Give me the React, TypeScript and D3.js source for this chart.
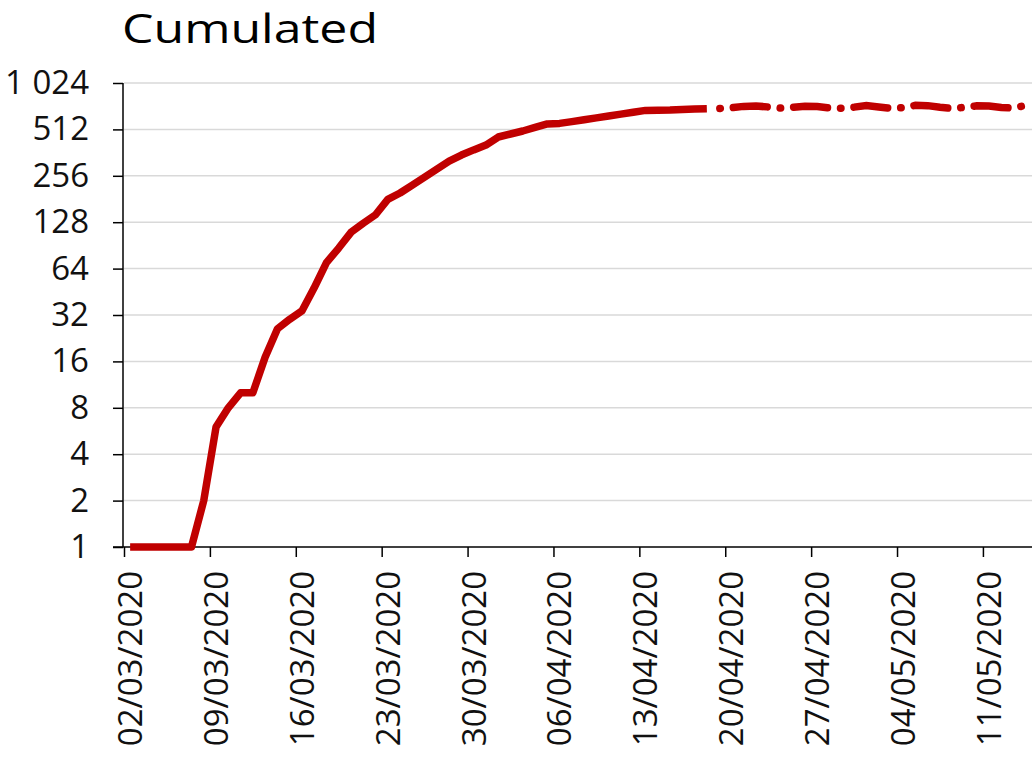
import React, { useEffect, useRef } from 'react';
import * as d3 from 'd3';

// daily cumulated counts starting 02/03/2020
const startDate = new Date(2020, 2, 2);
const actualValues = [
  1, 1, 1, 1, 1, 1, 2, 6, 8, 10, 10, 17, 26, 30, 34, 48, 70, 87, 110, 126,
  143, 180, 198, 223, 251, 283, 319, 349, 377, 405, 457, 478, 500, 527, 556, 560,
  575, 592, 608, 625, 643, 662, 680, 682, 684, 690, 694, 697,
];
// projection continues from the last actual day (18/04/2020)
const projectionStart = 47;
const projectionValues = [
  697, 700, 708, 722, 726, 716, 704, 712, 724, 720, 704, 703, 714, 732, 716, 702,
  708, 734, 730, 712, 700, 712, 728, 727, 710, 705, 732,
];
const yTicks = [1, 2, 4, 8, 16, 32, 64, 128, 256, 512, 1024];
const xTickLabels = [
  '02/03/2020', '09/03/2020', '16/03/2020', '23/03/2020', '30/03/2020', '06/04/2020',
  '13/04/2020', '20/04/2020', '27/04/2020', '04/05/2020', '11/05/2020',
];
const title = 'Cumulated';

const dayMs = 24 * 3600 * 1000;
const parseDay = d3.timeParse('%d/%m/%Y');

export default function App() {
  const ref = useRef<SVGSVGElement>(null);

  useEffect(() => {
    const svg = d3.select(ref.current);
    svg.selectAll('*').remove();

    const left = 124;
    const right = 1032;
    const top = 83;
    const bottom = 547;
    const font = '"Open Sans", sans-serif';

    const x = d3
      .scaleTime()
      .domain([startDate, d3.timeDay.offset(startDate, 74)])
      .range([left, right]);
    const y = d3.scaleLog().base(2).domain([1, 1024]).range([bottom, top]);

    // points sit in the middle of each day
    const dayX = (i: number) => x(new Date(startDate.getTime() + (i + 0.5) * dayMs));

    svg
      .append('text')
      .attr('x', 122)
      .attr('y', 43)
      .attr('font-family', font)
      .attr('font-size', 40)
      .attr('textLength', 256)
      .attr('lengthAdjust', 'spacingAndGlyphs')
      .attr('fill', '#000')
      .text(title);

    // gridlines
    svg
      .append('g')
      .selectAll('line')
      .data(yTicks.slice(1))
      .enter()
      .append('line')
      .attr('x1', left)
      .attr('x2', right)
      .attr('y1', d => y(d))
      .attr('y2', d => y(d))
      .attr('stroke', '#d9d9d9')
      .attr('stroke-width', 1.5);

    const yAxis = d3
      .axisLeft(y)
      .tickValues(yTicks)
      .tickSize(10)
      .tickPadding(24)
      .tickFormat(d => d3.format(',')(d as number).replace(',', ' '));
    const gy = svg
      .append('g')
      .attr('transform', `translate(${left - 1},0)`)
      .call(yAxis);
    gy.select('.domain').attr('stroke', '#000').attr('stroke-width', 1.5).attr('d', `M0,${top}V${bottom}`);
    gy.selectAll('.tick line').attr('stroke', '#000').attr('stroke-width', 1.5);
    gy.selectAll('.tick text')
      .attr('font-family', font)
      .attr('font-size', 33)
      .attr('fill', '#111');

    const xAxis = d3
      .axisBottom(x)
      .tickValues(xTickLabels.map(s => parseDay(s) as Date))
      .tickSize(10)
      .tickFormat(d => d3.timeFormat('%d/%m/%Y')(d as Date));
    const gx = svg
      .append('g')
      .attr('transform', `translate(0,${bottom})`)
      .call(xAxis);
    gx.select('.domain').attr('stroke', '#000').attr('stroke-width', 1.5).attr('d', `M${left - 11},0H${right}`);
    gx.selectAll('.tick line').attr('stroke', '#000').attr('stroke-width', 1.5);
    gx.selectAll('.tick text')
      .attr('font-family', font)
      .attr('font-size', 33)
      .attr('fill', '#111')
      .attr('text-anchor', 'end')
      .attr('transform', 'rotate(-90)')
      .attr('x', -24)
      .attr('y', 0)
      .attr('dy', '0.53em');

    const actualLine = d3
      .line<number>()
      .x((d, i) => dayX(i))
      .y(d => y(d));
    const projLine = d3
      .line<number>()
      .x((d, i) => dayX(i + projectionStart))
      .y(d => y(d));

    svg
      .append('path')
      .datum(projectionValues)
      .attr('d', projLine)
      .attr('fill', 'none')
      .attr('stroke', '#c00000')
      .attr('stroke-width', 7.5)
      .attr('stroke-linecap', 'round')
      .attr('stroke-dasharray', '34 13 0.5 13')
      .attr('stroke-dashoffset', 34);

    svg
      .append('path')
      .datum(actualValues)
      .attr('d', actualLine)
      .attr('fill', 'none')
      .attr('stroke', '#c00000')
      .attr('stroke-width', 7.5)
      .attr('stroke-linejoin', 'round');
  }, []);

  return (
    <svg
      ref={ref}
      width={1034}
      height={763}
      style={{ position: 'absolute', left: 0, top: 0, background: '#fff' }}
    />
  );
}
